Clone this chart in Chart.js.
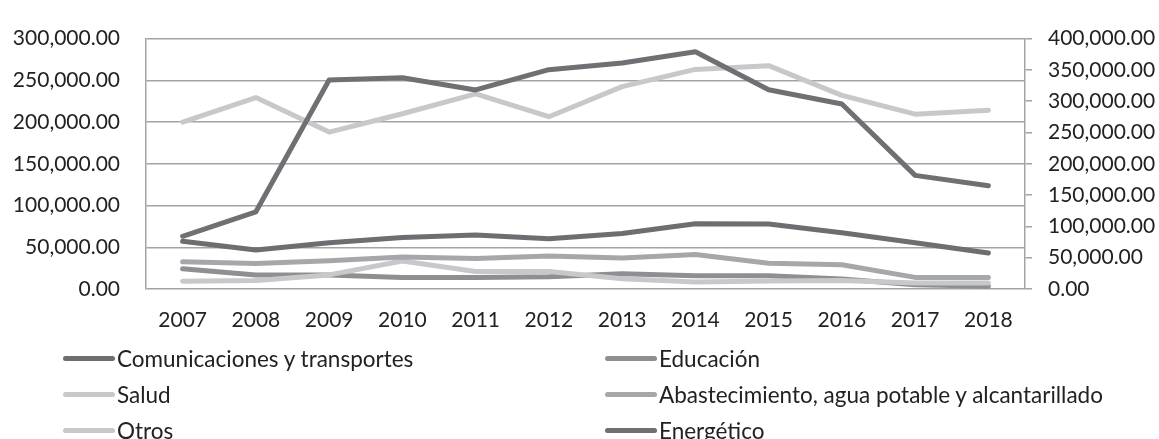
<!DOCTYPE html>
<html>
<head>
<meta charset="utf-8">
<script src="https://cdn.jsdelivr.net/npm/chart.js@4/dist/chart.umd.min.js"></script>
<style>
  html, body { margin: 0; padding: 0; background: #fff; }
  #wrap { position: relative; width: 1159px; height: 439px; overflow: hidden; font-family: Lato, sans-serif; }
  #c { position: absolute; left: 0; top: 0; }
  .lg { position: absolute; display: flex; align-items: center; font-size: 22.5px; color: #222; white-space: nowrap; height: 30px; }
  .lg span.sw { display: inline-block; width: 52px; height: 5px; border-radius: 3px; margin-right: 2px; }
</style>
</head>
<body>
<div id="wrap">
  <canvas id="c" width="1159" height="439"></canvas>
  <div id="legend"></div>
</div>
<script>
const years = ['2007','2008','2009','2010','2011','2012','2013','2014','2015','2016','2017','2018'];
const comunicaciones = [57200, 46600, 55300, 61700, 64600, 60100, 66500, 78200, 77800, 67300, 55300, 43200];
const educacion      = [24400, 16900, 16900, 13900, 13900, 14700, 18400, 15800, 15800, 12000, 5000, 3400];
const salud          = [9400, 10200, 16900, 33500, 20900, 20900, 12400, 8300, 9600, 10200, 7100, 7100];
const abastecimiento = [32700, 30500, 33800, 38300, 36500, 39500, 37200, 41400, 30800, 29000, 13900, 13900];
const otros          = [200000, 229300, 188000, 210000, 233800, 206400, 242500, 263100, 267600, 232000, 209500, 214300];
const energetico     = [84200, 123300, 333800, 337600, 318000, 350400, 360900, 379000, 318300, 295500, 181500, 165000];
const leftTicks  = [0, 50000, 100000, 150000, 200000, 250000, 300000];
const rightTicks = [0, 50000, 100000, 150000, 200000, 250000, 300000, 350000, 400000];

const fmt = v => v.toLocaleString('en-US', {minimumFractionDigits: 2, maximumFractionDigits: 2});
const GRID = '#a3a3a3';
const FONT = {family: 'Lato', size: 21};

const series = [
  {label: 'Comunicaciones y transportes', data: comunicaciones, color: '#6d6e71', axis: 'y', order: 6, lx: 63, ly: 358},
  {label: 'Educación', data: educacion, color: '#8e8f92', axis: 'y', order: 5, lx: 605, ly: 358},
  {label: 'Salud', data: salud, color: '#c7c8ca', axis: 'y', order: 4, lx: 63, ly: 394},
  {label: 'Abastecimiento, agua potable y alcantarillado', data: abastecimiento, color: '#a6a7aa', axis: 'y', order: 3, lx: 605, ly: 394},
  {label: 'Otros', data: otros, color: '#c7c8ca', axis: 'y', order: 2, lx: 63, ly: 430},
  {label: 'Energético', data: energetico, color: '#6f7073', axis: 'y1', order: 1, lx: 605, ly: 430}
];

new Chart(document.getElementById('c'), {
  type: 'line',
  data: {
    labels: years,
    datasets: series.map(s => ({
      label: s.label, data: s.data, borderColor: s.color, backgroundColor: s.color,
      borderWidth: 5, pointRadius: 0, tension: 0, yAxisID: s.axis, order: s.order,
      borderCapStyle: 'round', borderJoinStyle: 'round', fill: false
    }))
  },
  options: {
    responsive: false, animation: false, devicePixelRatio: 1,
    layout: {padding: {top: 23, left: 0, right: 0, bottom: 0}},
    plugins: {legend: {display: false}, tooltip: {enabled: false}},
    scales: {
      x: {
        offset: true,
        grid: {display: false, drawTicks: false},
        border: {display: false},
        ticks: {font: FONT, color: '#222', padding: 19, maxRotation: 0},
        afterFit: s => { s.height = 150; }
      },
      y: {
        position: 'left', min: 0, max: 300000,
        afterBuildTicks: s => { s.ticks = leftTicks.map(v => ({value: v})); },
        grid: {color: GRID, lineWidth: 1.5, drawTicks: false},
        border: {display: true, color: GRID, width: 1.5},
        ticks: {font: FONT, color: '#222', padding: 26, callback: v => fmt(v)},
        afterFit: s => { s.width = 146; }
      },
      y1: {
        position: 'right', min: 0, max: 400000,
        afterBuildTicks: s => { s.ticks = rightTicks.map(v => ({value: v})); },
        grid: {drawOnChartArea: false, drawTicks: true, tickLength: 7, color: GRID, lineWidth: 1.5},
        border: {display: true, color: GRID, width: 1.5},
        ticks: {font: FONT, color: '#222', padding: 16, callback: v => fmt(v)},
        afterFit: s => { s.width = 134; }
      }
    }
  }
});

const lg = document.getElementById('legend');
series.forEach(s => {
  const d = document.createElement('div');
  d.className = 'lg';
  d.style.left = s.lx + 'px';
  d.style.top = (s.ly - 15) + 'px';
  const sw = document.createElement('span');
  sw.className = 'sw';
  sw.style.background = s.color;
  d.appendChild(sw);
  d.appendChild(document.createTextNode(s.label));
  lg.appendChild(d);
});
</script>
</body>
</html>
